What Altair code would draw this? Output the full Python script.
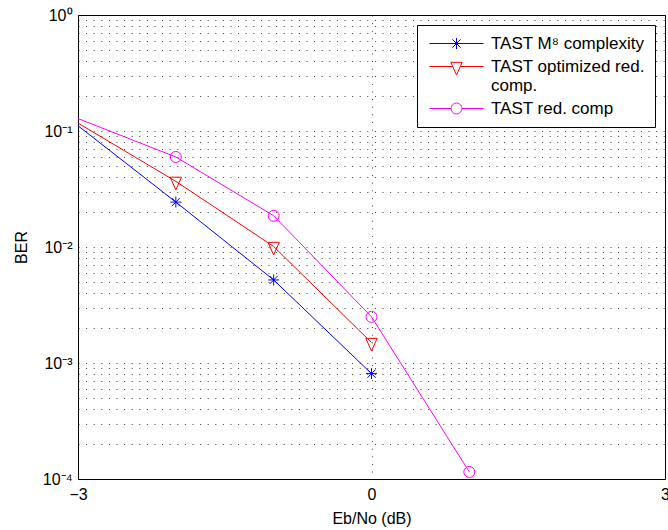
import altair as alt
import pandas as pd

# ---- data ----
snr = [-3, -2, -1, 0, 1]
ber_full = [0.111, 0.0244, 0.0052, 0.00081]
ber_opt = [0.117, 0.0368, 0.0101, 0.0015]
ber_red = [0.128, 0.0597, 0.0186, 0.0025, 0.000115]
names = ["TAST M⁸ complexity", "TAST optimized red. comp.", "TAST red. comp"]
colors = ["#0000ff", "#ff0000", "#ff00ff"]
x_ticks = [-3, 0, 3]
y_ticks = [m * 10.0 ** k for k in range(-4, 0) for m in range(1, 10)] + [1.0]

# marker shapes (unit coordinates)
marker_paths = [
    "M0,-1V1M-1,0H1M-0.75,-0.75L0.75,0.75M-0.75,0.75L0.75,-0.75",
    "M-1.03,-0.76H1.03L0,1.55Z",
    "M-1,0A1,1 0 1,0 1,0A1,1 0 1,0 -1,0",
]
# legend symbols: line segment + marker
legend_paths = [
    "M-1.09,0H8.73M3.82,-1V1M3.07,-0.75L4.57,0.75M3.07,0.75L4.57,-0.75",
    "M-1.09,0H3.13M4.51,0H8.73M2.79,-0.76H4.85L3.82,1.55Z",
    "M-1.09,0H2.82M4.82,0H8.73M2.82,0A1,1 0 1,0 4.82,0A1,1 0 1,0 2.82,0",
]

rows = []
for name, vals in zip(names, [ber_full, ber_opt, ber_red]):
    for xv, v in zip(snr, vals):
        rows.append({"snr": xv, "ber": v, "series": name})
df = pd.DataFrame(rows)

FONT = "Liberation Sans"

x_enc = alt.X(
    "snr:Q",
    scale=alt.Scale(domain=[-3, 3], nice=False),
    axis=alt.Axis(
        values=x_ticks, title="Eb/No (dB)", grid=True, ticks=False, domain=False,
        labelFontSize=16, titleFontSize=16, labelPadding=7, titlePadding=8,
        labelFont=FONT, titleFont=FONT, titleFontWeight="normal", labelColor="black",
        titleColor="black", gridColor="#000000", gridOpacity=0.75, gridDash=[1, 6.6],
        labelFlush=False,
    ),
)
y_label_expr = (
    "abs(log(datum.value)/LN10 - round(log(datum.value)/LN10)) < 1e-6 ? "
    "('10' + (round(log(datum.value)/LN10) == 0 ? '⁰' : '⁻' + "
    "['', '¹', '²', '³', '⁴'][-round(log(datum.value)/LN10)])) : ''"
)
y_enc = alt.Y(
    "ber:Q",
    scale=alt.Scale(type="log", domain=[1e-4, 1], nice=False),
    axis=alt.Axis(
        values=y_ticks, labelExpr=y_label_expr, title="BER", grid=True, ticks=False,
        domain=False, labelFontSize=16, titleFontSize=16, labelPadding=6, titlePadding=13,
        labelFont=FONT, titleFont=FONT, titleFontWeight="normal", labelColor="black",
        titleColor="black", gridColor="#000000", gridOpacity=0.75, gridDash=[1, 6.6],
    ),
)

legend = alt.Legend(
    title=None, orient="none", legendX=339, legendY=10,
    fillColor="white", strokeColor="black", padding=10, cornerRadius=0,
    labelFont=FONT, labelFontSize=17, labelColor="black", labelLimit=400,
    labelOffset=47, symbolSize=121, symbolStrokeWidth=1, rowPadding=5,
    labelExpr="datum.label == 'TAST optimized red. comp.' ? ['TAST optimized red.', 'comp.'] : datum.label",
)

color_scale = alt.Scale(domain=names, range=colors)

lines = alt.Chart(df).mark_line(strokeWidth=1, clip=True).encode(
    x=x_enc, y=y_enc, color=alt.Color("series:N", scale=color_scale, legend=legend)
)

marker_layers = []
for name, col, path in zip(names, colors, marker_paths):
    marker_layers.append(
        alt.Chart(df)
        .transform_filter((alt.datum.series == name) & (alt.datum.snr > -3))
        .mark_point(shape=path, size=121, filled=False, strokeWidth=1, color=col, opacity=1)
        .encode(x=x_enc, y=y_enc)
    )

legend_layer = (
    alt.Chart(df)
    .transform_filter("false")
    .mark_point(filled=False, strokeWidth=1, size=121, opacity=1)
    .encode(
        x=x_enc, y=y_enc,
        color=alt.Color("series:N", scale=color_scale, legend=legend),
        shape=alt.Shape("series:N", scale=alt.Scale(domain=names, range=legend_paths), legend=legend),
    )
)

chart = (
    alt.layer(lines, *marker_layers, legend_layer)
    .properties(width=587, height=464, padding={"left": 78, "top": 15, "right": 3, "bottom": 51},
                autosize=alt.AutoSizeParams(type="none"), background="white")
    .configure_view(stroke="black", strokeWidth=1)
)

chart.save("out.html", embed_options={"renderer": "svg", "actions": False})
